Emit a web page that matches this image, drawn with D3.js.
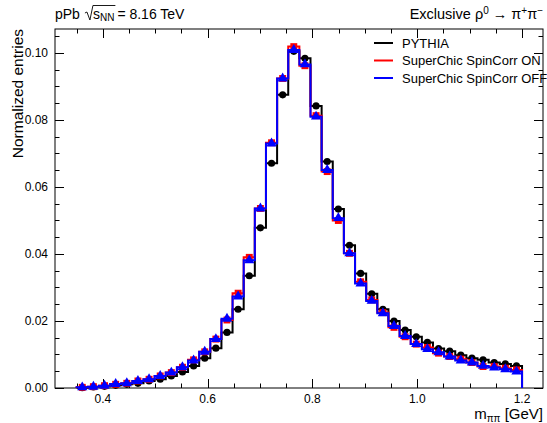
<!DOCTYPE html>
<html>
<head>
<meta charset="utf-8">
<script src="https://cdn.jsdelivr.net/npm/d3@7"></script>
<style>
  body { margin: 0; background: #fff; }
  svg { font-family: "Liberation Sans", Arial, sans-serif; }
</style>
</head>
<body>
<svg id="chart" width="547" height="423"></svg>
<script>
// 40 bins from 0.35 to 1.2 GeV
const binEdges = d3.range(41).map((i) => 0.35 + i * 0.02125);

const pythia = [
  0.0001, 0.0003, 0.0005, 0.0008, 0.0011, 0.0014, 0.0021, 0.0026, 0.0036, 0.0048,
  0.0066, 0.0089, 0.0119, 0.0166, 0.0235, 0.0335, 0.0478, 0.0671, 0.0875, 0.1005,
  0.0984, 0.0842, 0.0676, 0.0534, 0.0426, 0.0342, 0.0281, 0.0235, 0.0200, 0.0173,
  0.0153, 0.0136, 0.0118, 0.0110, 0.0098, 0.0089, 0.0084, 0.0076, 0.0072, 0.0066,
];
const spinOn = [
  0.0002, 0.0004, 0.0007, 0.0011, 0.0014, 0.0021, 0.0026, 0.0036, 0.0046, 0.0062,
  0.0084, 0.0108, 0.0146, 0.0203, 0.0283, 0.0390, 0.0536, 0.0732, 0.0924, 0.1019,
  0.0962, 0.0813, 0.0646, 0.0500, 0.0402, 0.0317, 0.0263, 0.0225, 0.0181, 0.0153,
  0.0131, 0.0121, 0.0104, 0.0094, 0.0086, 0.0076, 0.0064, 0.0064, 0.0059, 0.0054,
];
const spinOff = [
  0.0002, 0.0004, 0.0007, 0.0012, 0.0014, 0.0021, 0.0026, 0.0036, 0.0046, 0.0062,
  0.0082, 0.0108, 0.0146, 0.0207, 0.0273, 0.0381, 0.0536, 0.0730, 0.0924, 0.1009,
  0.0966, 0.0810, 0.0651, 0.0507, 0.0402, 0.0312, 0.0260, 0.0223, 0.0185, 0.0155,
  0.0131, 0.0116, 0.0107, 0.0094, 0.0082, 0.0076, 0.0066, 0.0061, 0.0056, 0.0049,
];

const seriesNames = ["PYTHIA", "SuperChic SpinCorr ON", "SuperChic SpinCorr OFF"];
const seriesColors = ["#000000", "#ff0000", "#0000ff"];
const seriesValues = [pythia, spinOn, spinOff];
const markerShapes = [d3.symbolCircle, d3.symbolSquare, d3.symbolTriangle];
const markerSizes = [40, 48, 46];

const xTicks = [0.4, 0.6, 0.8, 1.0, 1.2];
const yTicks = [0, 0.02, 0.04, 0.06, 0.08, 0.1];

const svg = d3.select("#chart");
const frameLeft = 55, frameRight = 543, frameTop = 29, frameBottom = 388;

const x = d3.scaleLinear().domain([0.3086, 1.24]).range([frameLeft, frameRight]);
const y = d3.scaleLinear().domain([0, 0.10716]).range([frameBottom, frameTop]);

// frame
svg.append("rect")
  .attr("x", frameLeft).attr("y", frameTop)
  .attr("width", frameRight - frameLeft).attr("height", frameBottom - frameTop)
  .attr("fill", "none").attr("stroke", "#000").attr("stroke-width", 1);

// ticks on all four sides, pointing inward
const xMinor = d3.range(0.35, 1.2401, 0.05).filter((v) => v > 0.3086);
const yMinor = d3.range(0, 0.1071, 0.005);

const ticks = svg.append("g").attr("stroke", "#000").attr("stroke-width", 1);
xMinor.forEach((v) => {
  const major = xTicks.some((t) => Math.abs(t - v) < 1e-6);
  const len = major ? 9 : 4.5;
  const px = Math.round(x(v)) + 0.5;
  ticks.append("line").attr("x1", px).attr("x2", px).attr("y1", frameBottom).attr("y2", frameBottom - len);
  ticks.append("line").attr("x1", px).attr("x2", px).attr("y1", frameTop).attr("y2", frameTop + len);
});
yMinor.forEach((v) => {
  const major = yTicks.some((t) => Math.abs(t - v) < 1e-6);
  const len = major ? 9 : 4.5;
  const py = Math.round(y(v)) + 0.5;
  ticks.append("line").attr("x1", frameLeft).attr("x2", frameLeft + len).attr("y1", py).attr("y2", py);
  ticks.append("line").attr("x1", frameRight).attr("x2", frameRight - len).attr("y1", py).attr("y2", py);
});

// tick labels
svg.append("g").selectAll("text")
  .data(xTicks).enter().append("text")
  .attr("x", (d) => x(d)).attr("y", 403)
  .attr("text-anchor", "middle").attr("font-size", 12)
  .text((d) => d3.format(".1f")(d));

svg.append("g").selectAll("text")
  .data(yTicks).enter().append("text")
  .attr("x", 48).attr("y", (d) => y(d) + 4)
  .attr("text-anchor", "end").attr("font-size", 12)
  .text((d) => d3.format(".2f")(d));

// axis titles
const xTitle = svg.append("text")
  .attr("x", frameRight).attr("y", 419)
  .attr("text-anchor", "end").attr("font-size", 15);
xTitle.append("tspan").text("m");
xTitle.append("tspan").attr("font-size", 10).attr("dy", 3).text("ππ");
xTitle.append("tspan").attr("dy", -3).text(" [GeV]");

svg.append("text")
  .attr("transform", `translate(23, ${frameTop}) rotate(-90)`)
  .attr("text-anchor", "end").attr("font-size", 15.5)
  .text("Normalized entries");

// histograms: step line then markers
const binCenters = binEdges.slice(0, -1).map((e, i) => (e + binEdges[i + 1]) / 2);

function stepPath(vals) {
  const p = d3.path();
  p.moveTo(x(binEdges[0]), y(0));
  vals.forEach((v, i) => {
    p.lineTo(x(binEdges[i]), y(v));
    p.lineTo(x(binEdges[i + 1]), y(v));
  });
  p.lineTo(x(binEdges[binEdges.length - 1]), y(0));
  return p.toString();
}

seriesValues.forEach((vals, s) => {
  const g = svg.append("g");
  g.append("path")
    .attr("d", stepPath(vals))
    .attr("fill", "none")
    .attr("stroke", seriesColors[s])
    .attr("stroke-width", 2);
  g.selectAll("path.marker")
    .data(vals).enter().append("path")
    .attr("class", "marker")
    .attr("d", d3.symbol().type(markerShapes[s]).size(markerSizes[s]))
    .attr("transform", (d, i) => `translate(${x(binCenters[i])}, ${y(d)})`)
    .attr("fill", seriesColors[s]);
});

// legend
const legend = svg.append("g").attr("font-size", 13);
seriesNames.forEach((name, i) => {
  const ly = 43 + i * 17.5;
  legend.append("line")
    .attr("x1", 374).attr("x2", 393).attr("y1", ly).attr("y2", ly)
    .attr("stroke", seriesColors[i]).attr("stroke-width", 2);
  legend.append("text").attr("x", 402).attr("y", ly + 4.5).text(name);
});

// top-left energy label with a drawn radical
const energy = svg.append("g").attr("font-size", 14);
const pPb = energy.append("text").attr("x", 55).attr("y", 19).text("pPb");
let cx = 55 + pPb.node().getComputedTextLength() + 5;
const sText = energy.append("text").attr("x", cx + 8).attr("y", 19);
sText.append("tspan").text("s");
sText.append("tspan").attr("font-size", 10).attr("dy", 2).text("NN");
const sWidth = sText.node().getComputedTextLength();
energy.append("path")
  .attr("d", `M${cx},13 L${cx + 2},12 L${cx + 5},20 L${cx + 8},5.5 L${cx + 9 + sWidth},5.5`)
  .attr("fill", "none").attr("stroke", "#000").attr("stroke-width", 0.9);
energy.append("text")
  .attr("x", cx + 11 + sWidth).attr("y", 19)
  .text("= 8.16 TeV");

// top-right process label
const proc = svg.append("text")
  .attr("x", frameRight).attr("y", 19)
  .attr("text-anchor", "end").attr("font-size", 14.5);
proc.append("tspan").text("Exclusive ρ");
proc.append("tspan").attr("font-size", 10).attr("dy", -5).text("0");
proc.append("tspan").attr("dy", 5).text(" → π");
proc.append("tspan").attr("font-size", 10).attr("dy", -5).text("+");
proc.append("tspan").attr("dy", 5).text("π");
proc.append("tspan").attr("font-size", 10).attr("dy", -5).text("−");
</script>
</body>
</html>
